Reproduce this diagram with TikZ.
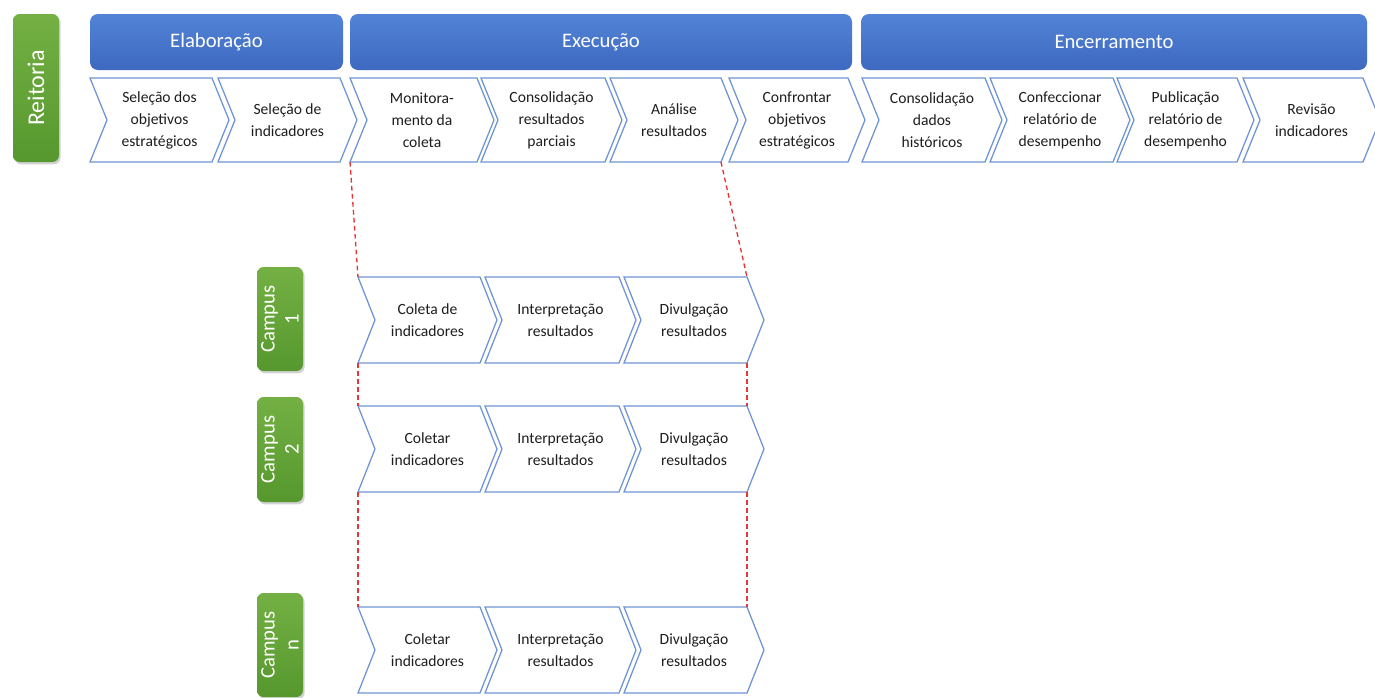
\documentclass[tikz,border=0pt]{standalone}
\usepackage{fontspec}
\setmainfont{Carlito}
\usetikzlibrary{shadows,calc}
\definecolor{hblueT}{HTML}{5283D6}
\definecolor{hblueB}{HTML}{3D69C0}
\definecolor{gT}{HTML}{74B044}
\definecolor{gB}{HTML}{56982E}
\definecolor{chevblue}{HTML}{6F94D4}
\definecolor{dashred}{HTML}{E5363A}
\definecolor{txt}{HTML}{1E1E1E}
\newcommand\chev[6]{%
  \draw[chevline] (#2,#4) coordinate (#1-tl) -- (#3,#4) coordinate (#1-tr)
    -- (#3+17,{(#4+#5)/2}) -- (#3,#5) coordinate (#1-br)
    -- (#2,#5) coordinate (#1-bl) -- (#2+17,{(#4+#5)/2}) -- cycle;
  \node[chevtext] (#1) at ({(#2+#3+17)/2},{(#4+#5)/2}) {#6};
}
\begin{document}
\begin{tikzpicture}[x=0.75pt,y=-0.75pt,
  chevline/.style={draw=chevblue, line width=0.95pt, fill=white, line join=miter},
  chevtext/.style={align=center, text=txt, font=\fontsize{11.7}{16.5}\selectfont, inner sep=0pt},
  hdr/.style={rounded corners=6pt, top color=hblueT, bottom color=hblueB, draw=none,
    text=white, font=\fontsize{15.5}{18}\selectfont, inner sep=0pt},
  greenbox/.style={rounded corners=5pt, top color=gT, bottom color=gB, draw=none,
    text=white, rotate=90, align=center, inner sep=0pt,
    drop shadow={opacity=0.35, shadow xshift=1.2pt, shadow yshift=-1.8pt}},
  reddash/.style={draw=dashred, line width=1pt, dash pattern=on 3.5pt off 2.5pt}
]
\useasboundingbox (0,0) rectangle (1375,697);
\fill[white] (0,0) rectangle (1375,697);

% left label
\node[greenbox, minimum width=148*0.75pt, minimum height=46*0.75pt,
  font=\fontsize{18}{20}\selectfont] (reit) at (36,88) {Reitoria};

% phase headers
\node[hdr, minimum width=253*0.75pt, minimum height=56*0.75pt] (elab) at (216.5,42) {Elaboração};
\node[hdr, minimum width=502*0.75pt, minimum height=56*0.75pt] (exec) at (601,42) {Execução};
\node[hdr, minimum width=506*0.75pt, minimum height=56*0.75pt] (ence) at (1114,42) {Encerramento};

% main row
\chev{c1}{90}{212}{78}{162}{Seleção dos\\objetivos\\estratégicos}
\chev{c2}{218}{340}{78}{162}{Seleção de\\indicadores}
\chev{c3}{350}{477}{78}{162}{Monitora-\\mento da\\coleta}
\chev{c4}{481}{605}{78}{162}{Consolidação\\resultados\\parciais}
\chev{c5}{610}{721}{78}{162}{Análise\\resultados}
\chev{c6}{729}{848}{78}{162}{Confrontar\\objetivos\\estratégicos}
\chev{c7}{862}{985}{78}{162}{Consolidação\\dados\\históricos}
\chev{c8}{990}{1113}{78}{162}{Confeccionar\\relatório de\\desempenho}
\chev{c9}{1117}{1237}{78}{162}{Publicação\\relatório de\\desempenho}
\chev{c10}{1243}{1363}{78}{162}{Revisão\\indicadores}

% campus labels
\node[greenbox, minimum width=104*0.75pt, minimum height=46*0.75pt,
  font=\fontsize{15.5}{18}\selectfont] (camp1) at (280,319) {Campus\\1};
\node[greenbox, minimum width=105*0.75pt, minimum height=46*0.75pt,
  font=\fontsize{15.5}{18}\selectfont] (camp2) at (280,449.5) {Campus\\2};
\node[greenbox, minimum width=104*0.75pt, minimum height=46*0.75pt,
  font=\fontsize{15.5}{18}\selectfont] (campn) at (280,645) {Campus\\n};

% campus rows
\chev{a1}{358}{480}{277}{363}{Coleta de\\indicadores}
\chev{a2}{485}{619}{277}{363}{Interpretação\\resultados}
\chev{a3}{624}{747}{277}{363}{Divulgação\\resultados}
\chev{b1}{358}{480}{406}{492}{Coletar\\indicadores}
\chev{b2}{485}{619}{406}{492}{Interpretação\\resultados}
\chev{b3}{624}{747}{406}{492}{Divulgação\\resultados}
\chev{n1}{358}{480}{607}{693}{Coletar\\indicadores}
\chev{n2}{485}{619}{607}{693}{Interpretação\\resultados}
\chev{n3}{624}{747}{607}{693}{Divulgação\\resultados}

% red dashed guides
\draw[reddash] (c3-bl) -- (a1-tl);
\draw[reddash] (c5-br) -- (a3-tr);
\draw[reddash] (a1-bl) -- (b1-tl);
\draw[reddash] (a3-br) -- (b3-tr);
\draw[reddash] (b1-bl) -- (n1-tl);
\draw[reddash] (b3-br) -- (n3-tr);
\end{tikzpicture}
\end{document}
